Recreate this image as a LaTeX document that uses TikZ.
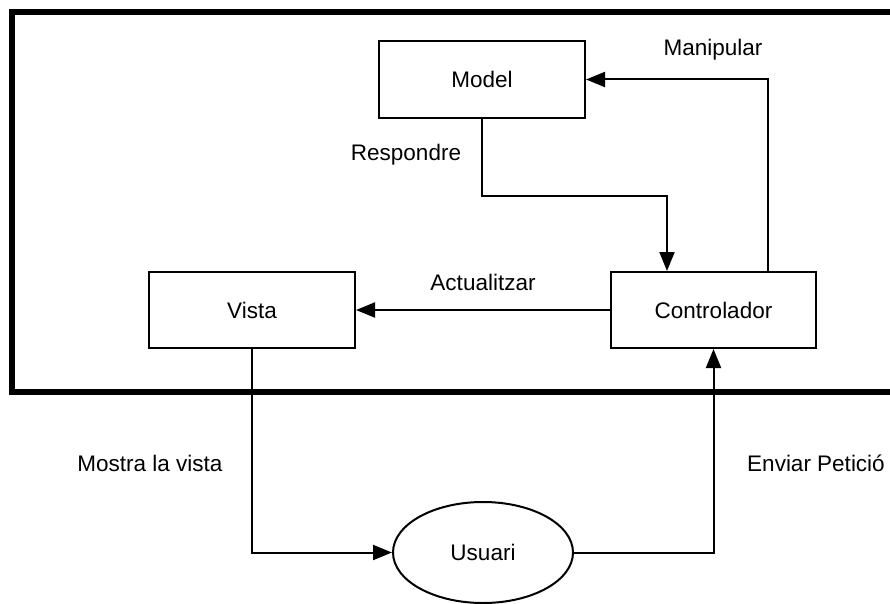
\documentclass[tikz,border=0pt]{standalone}
\usepackage{fontspec}
\setmainfont{Liberation Sans}
\usetikzlibrary{arrows.meta,shapes.geometric}

\tikzset{
  box/.style={draw, line width=2pt, rectangle, inner sep=0pt,
              minimum width=206pt, minimum height=77pt, fill=white},
  user/.style={draw, line width=2pt, ellipse, inner sep=0pt,
               minimum width=180pt, minimum height=101pt, fill=white},
  conn/.style={line width=2pt, -{Triangle[length=19pt,width=15pt]}},
  lbl/.style={inner sep=0pt},
}

\begin{document}
\begin{tikzpicture}[x=1pt, y=-1pt, font=\fontsize{22.5}{27}\selectfont]
  \useasboundingbox (0,0) rectangle (890,604);

  % outer system frame (open on the right, clipped at the edge)
  \begin{scope}
    \clip (0,0) rectangle (890,604);
    \draw[line width=6pt] (900,12.5) -- (12,12.5) -- (12,392) -- (900,392);
  \end{scope}

  % components
  \node[box] (model) at (482,79.5) {Model};
  \node[box, minimum width=205pt, minimum height=76pt] (ctrl) at (713.5,310) {Controlador};
  \node[box, minimum height=76pt] (vista) at (252,310) {Vista};
  \node[user] (usuari) at (483,552.5) {Usuari};

  % connectors
  \draw[conn] (model.south) -- ++(0,77) -| ([xshift=-46.5pt]ctrl.north);
  \draw[conn] ([xshift=54.5pt]ctrl.north) |- (model.east);
  \draw[conn] (ctrl.west) -- (vista.east);
  \draw[conn] (vista.south) |- (usuari.west);
  \draw[conn] (usuari.east) -| (ctrl.south);

  % connector labels
  \node[lbl] (lmanip) at (713,50) {Manipular};
  \node[lbl] (lresp) at (406,155) {Respondre};
  \node[lbl] (lact) at (483,282) {Actualitzar};
  \node[lbl] (lmostra) at (150,463) {Mostra la vista};
  \node[lbl] (lenviar) at (816,463) {Enviar Petició};
\end{tikzpicture}
\end{document}
